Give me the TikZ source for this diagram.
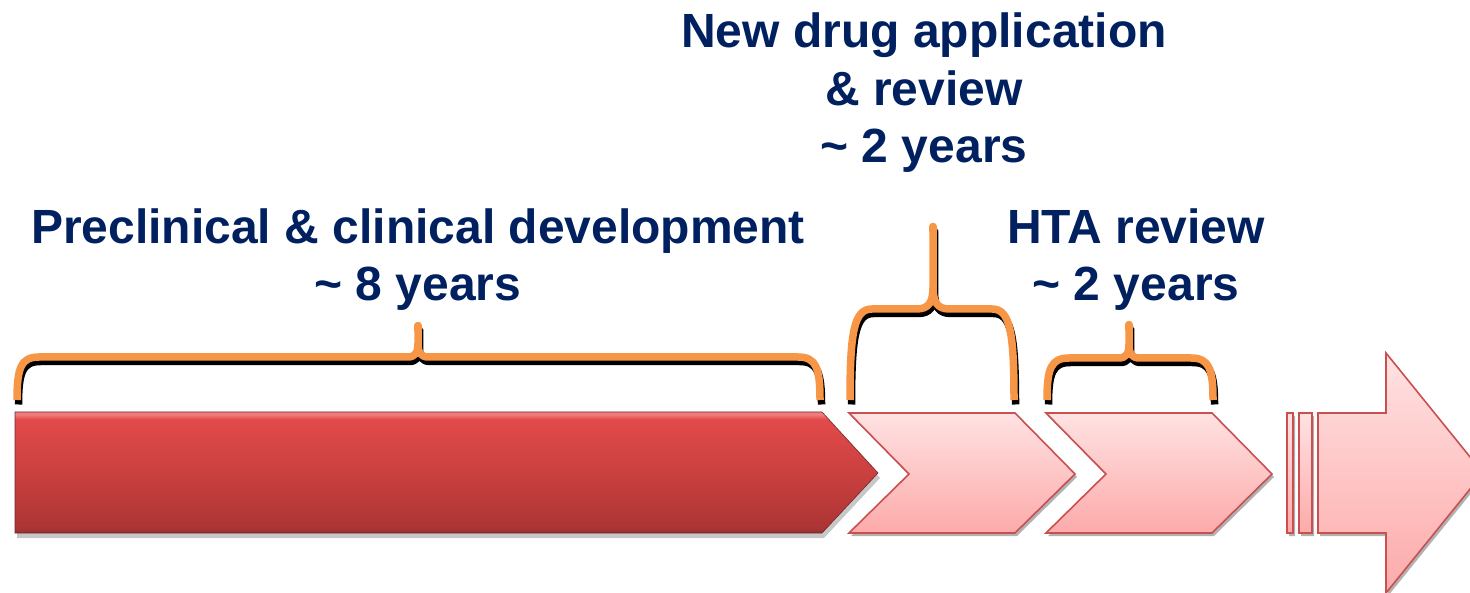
\documentclass[tikz,border=0pt]{standalone}
\usepackage{fontspec}
\setmainfont{Liberation Sans}
\definecolor{navy}{RGB}{0,32,96}
\definecolor{brorange}{RGB}{247,150,70}
\definecolor{rd0}{RGB}{240,125,125}
\definecolor{rd1}{RGB}{226,74,74}
\definecolor{rd2}{RGB}{203,64,64}
\definecolor{rd3}{RGB}{172,52,52}
\definecolor{rd4}{RGB}{140,50,50}
\definecolor{pk0}{RGB}{255,226,226}
\definecolor{pk1}{RGB}{253,170,170}
\definecolor{pkline}{RGB}{200,80,80}
\pgfdeclareverticalshading{redbar}{100bp}{color(0bp)=(rd4); color(25bp)=(rd4); color(27bp)=(rd3); color(50bp)=(rd2); color(72bp)=(rd1); color(74bp)=(rd0); color(100bp)=(rd0)}
\newcommand\mybrace[8]{% x1 x2 xm yh ytop ybot peakh style
  \draw[#8] (#1,#6) .. controls (#1,{#4+0.25*(#6-#4)}) and ({#1+4},#4) .. ({#1+22},#4)
    -- ({#3-#7*0.75},#4) .. controls ({#3-#7*0.2},#4) and (#3,{#4-#7*0.3}) .. (#3,{#4-#7})
    -- (#3,{#5+3})
    (#3,{#4-#7}) .. controls (#3,{#4-#7*0.3}) and ({#3+#7*0.2},#4) .. ({#3+#7*0.75},#4)
    -- ({#2-22},#4) .. controls ({#2-4},#4) and (#2,{#4+0.25*(#6-#4)}) .. (#2,#6);
  \draw[#8, line cap=round] (#3,{#5+8}) -- (#3,{#5+3.5});
}
\tikzset{
  lbl/.style={text=navy, font=\bfseries\fontsize{48}{57.5}\selectfont, align=center, inner sep=0pt, anchor=base},
  bracefg/.style={draw=brorange, line width=7.5pt, line join=round},
  bracebg/.style={draw=black, line width=7.5pt, line join=round, xshift=1.5pt, yshift=-4.5pt},
  redshape/.style={shading=redbar, draw=rd4!80!black, line width=0.6pt},
  pinkshape/.style={top color=pk0, bottom color=pk1, draw=pkline, line width=1.6pt, line join=miter},
  shadowshape/.style={fill=black, opacity=0.22, draw=none},
}
\begin{document}
\begin{tikzpicture}[x=1pt,y=-1pt]
\useasboundingbox (0,0) rectangle (1470,593);
\clip (0,0) rectangle (1470,593);
% shadows
\fill[shadowshape, xshift=2pt, yshift=-5pt] (15,412) -- (822,412) -- (878,473) -- (822,533) -- (15,533) -- cycle;
\fill[shadowshape, opacity=0.3, xshift=2pt, yshift=-3pt] (849,413) -- (1015,413) -- (1075,474) -- (1015,533) -- (849,533) -- (909,474) -- cycle;
\fill[shadowshape, opacity=0.3, xshift=2pt, yshift=-3pt] (1046,413) -- (1212,413) -- (1272,474) -- (1212,533) -- (1046,533) -- (1106,474) -- cycle;
\fill[shadowshape, opacity=0.3, xshift=2pt, yshift=-3pt] (1287,413) rectangle (1293,533) (1299,413) rectangle (1312,533)
  (1318,413) -- (1386,413) -- (1386,353) -- (1483,473) -- (1386,593) -- (1386,533) -- (1318,533) -- cycle;
% red bar
\path[redshape] (15,412) -- (822,412) -- (878,473) -- (822,533) -- (15,533) -- cycle;
% chevrons
\path[pinkshape] (849,413) -- (1015,413) -- (1075,474) -- (1015,533) -- (849,533) -- (909,474) -- cycle;
\path[pinkshape] (1046,413) -- (1212,413) -- (1272,474) -- (1212,533) -- (1046,533) -- (1106,474) -- cycle;
% big arrow
\path[pinkshape] (1287,413) rectangle (1293,533);
\path[pinkshape] (1299,413) rectangle (1312,533);
\path[pinkshape] (1318,413) -- (1386,413) -- (1386,353) -- (1483,473) -- (1386,593) -- (1386,533) -- (1318,533) -- cycle;
% braces
\mybrace{17}{820}{418}{357}{322}{400}{14}{bracebg}
\mybrace{17}{820}{418}{357}{322}{400}{14}{bracefg}
\mybrace{850}{1014}{933}{309}{223}{400}{22}{bracebg}
\mybrace{850}{1014}{933}{309}{223}{400}{22}{bracefg}
\mybrace{1047}{1213}{1129}{358}{321}{400}{14}{bracebg}
\mybrace{1047}{1213}{1129}{358}{321}{400}{14}{bracefg}
% labels (base anchor = baseline of last line)
\node[lbl] (pre) at (418,301) {Preclinical \& clinical development\\\textasciitilde\ 8 years};
\node[lbl] (nda) at (924,163) {New drug application\\\& review\\\textasciitilde\ 2 years};
\node[lbl] (hta) at (1136,301) {HTA review\\\textasciitilde\ 2 years};
\end{tikzpicture}
\end{document}
